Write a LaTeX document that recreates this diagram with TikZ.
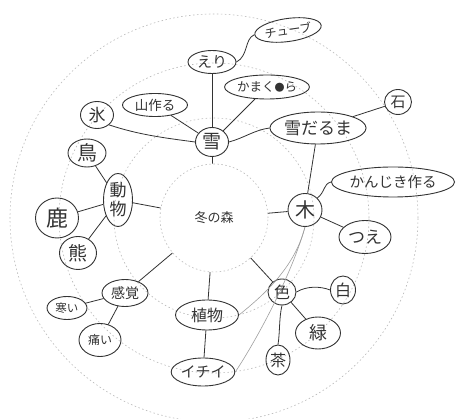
\documentclass[tikz,border=0pt]{standalone}
\usepackage{fontspec}
\setmainfont{Noto Sans CJK JP}
\usetikzlibrary{shapes.geometric}
\definecolor{ink}{HTML}{333333}
\newcommand\fsz[1]{\fontsize{#1pt}{#1pt}\selectfont}
\begin{document}
\begin{tikzpicture}[x=1pt,y=-1pt,
  ring/.style={draw=gray!55, line width=0.6pt, dash pattern=on 1.5pt off 2.5pt},
  bub/.style={ellipse, draw=ink, line width=0.9pt, inner sep=0pt, text=ink},
  link/.style={draw=ink, line width=0.8pt},
  faint/.style={draw=gray!75, line width=0.6pt}]
\useasboundingbox (0,0) rectangle (456,419);
\fill[white] (0,0) rectangle (456,419);
% rings
\draw[ring] (214,218) circle (100pt);
\draw[ring] (214,218) circle (155pt);
\draw[ring] (214,218) circle (204pt);
\node[circle, ring, minimum size=108pt, inner sep=0pt, text=ink, font=\fsz{13}] (c) at (214,218) {冬の森};
% nodes
\node[bub, minimum width=33pt, minimum height=29pt, font=\fsz{19}] (yuki) at (212,142) {雪};
\node[bub, minimum width=48pt, minimum height=23pt, font=\fsz{15}] (eri) at (212,62) {えり};
\node[bub, minimum width=67pt, minimum height=23pt, font=\fsz{12}, rotate=8] (tube) at (288,30) {チューブ};
\node[bub, minimum width=75pt, minimum height=24pt, font=\fsz{12.5}] (kama) at (267,87) {かまく{\fsz{10}●}ら};
\node[bub, minimum width=65pt, minimum height=23pt, font=\fsz{13.5}] (yama) at (155,105) {山作る};
\node[bub, minimum width=33pt, minimum height=27pt, font=\fsz{17}] (kori) at (97,115) {氷};
\node[bub, minimum width=95pt, minimum height=32pt, font=\fsz{17}] (daruma) at (318,128) {雪だるま};
\node[bub, minimum width=27pt, minimum height=25pt, font=\fsz{15}] (ishi) at (398,102) {石};
\node[bub, minimum width=34pt, minimum height=33pt, font=\fsz{20}] (ki) at (305,210) {木};
\node[bub, minimum width=102pt, minimum height=30pt, font=\fsz{14.5}] (kanjiki) at (393,182) {かんじき作る};
\node[bub, minimum width=52pt, minimum height=33pt, font=\fsz{17}] (tsue) at (365,237) {つえ};
\node[bub, minimum width=29pt, minimum height=53pt, font=\fontsize{17pt}{19pt}\selectfont, align=center] (doubutsu) at (118,200) {動\\物};
\node[bub, minimum width=38pt, minimum height=28pt, font=\fsz{20}] (tori) at (87,153) {鳥};
\node[bub, minimum width=43pt, minimum height=40pt, font=\fsz{22}] (shika) at (57,218) {鹿};
\node[bub, minimum width=37pt, minimum height=33pt, font=\fsz{19}] (kuma) at (78,253) {熊};
\node[bub, minimum width=46pt, minimum height=27pt, font=\fsz{14}] (kankaku) at (125,293) {感覚};
\node[bub, minimum width=40pt, minimum height=23pt, font=\fsz{11.5}] (samui) at (67,308) {寒い};
\node[bub, minimum width=42pt, minimum height=33pt, font=\fsz{12}] (itai) at (100,340) {痛い};
\node[bub, minimum width=63pt, minimum height=30pt, font=\fsz{16}] (shokubutsu) at (207,315) {植物};
\node[bub, minimum width=52pt, minimum height=28pt, font=\fsz{15}] (ichii) at (203,372) {イチイ};
\node[bub, minimum width=28pt, minimum height=26pt, font=\fsz{16}] (iro) at (282,292) {色};
\node[bub, minimum width=25pt, minimum height=28pt, font=\fsz{16}] (shiro) at (343,290) {白};
\node[bub, minimum width=45pt, minimum height=32pt, font=\fsz{18}] (midori) at (318,333) {緑};
\node[bub, minimum width=24pt, minimum height=30pt, font=\fsz{16}] (cha) at (278,360) {茶};
% center links
\draw[link] (c) -- (yuki);
\draw[link] (c) -- (doubutsu);
\draw[link] (c) -- (ki);
\draw[link] (c) -- (kankaku);
\draw[link] (c) -- (shokubutsu);
\draw[link] (c) -- (iro);
% snow
\draw[link] (yuki) -- (eri);
\draw[link] (yuki) -- (yama);
\draw[link] (yuki) -- (kama);
\draw[link] (yuki.west) .. controls +(-30,-4) and +(30,10) .. (kori.south east);
\draw[link] (yuki.east) .. controls +(15,-4) and +(-15,2) .. (daruma.west);
\draw[link] (eri.east) .. controls +(12,-6) and +(-10,4) .. (tube.west);
\draw[link] (daruma) -- (ishi);
\draw[link] (daruma) -- (ki);
% tree
\draw[link] (ki.north east) .. controls +(8,-6) and +(-8,2) .. (kanjiki.west);
\draw[link] (ki) -- (tsue);
\draw[faint] (ki.south) .. controls +(-10,40) and +(25,-20) .. (shokubutsu.east);
\draw[faint] (ki.south) .. controls +(-14,50) and +(20,-30) .. (ichii.east);
% animals
\draw[link] (doubutsu) -- (tori);
\draw[link] (doubutsu) -- (shika);
\draw[link] (doubutsu) -- (kuma);
% senses
\draw[link] (kankaku) -- (samui);
\draw[link] (kankaku) -- (itai);
% plants
\draw[link] (shokubutsu) -- (ichii);
% colour
\draw[link] (iro.east) .. controls +(10,-6) and +(-10,-4) .. (shiro.west);
\draw[link] (iro) -- (midori);
\draw[link] (iro.south) .. controls +(-3,12) and +(2,-12) .. (cha.north);
\end{tikzpicture}
\end{document}
